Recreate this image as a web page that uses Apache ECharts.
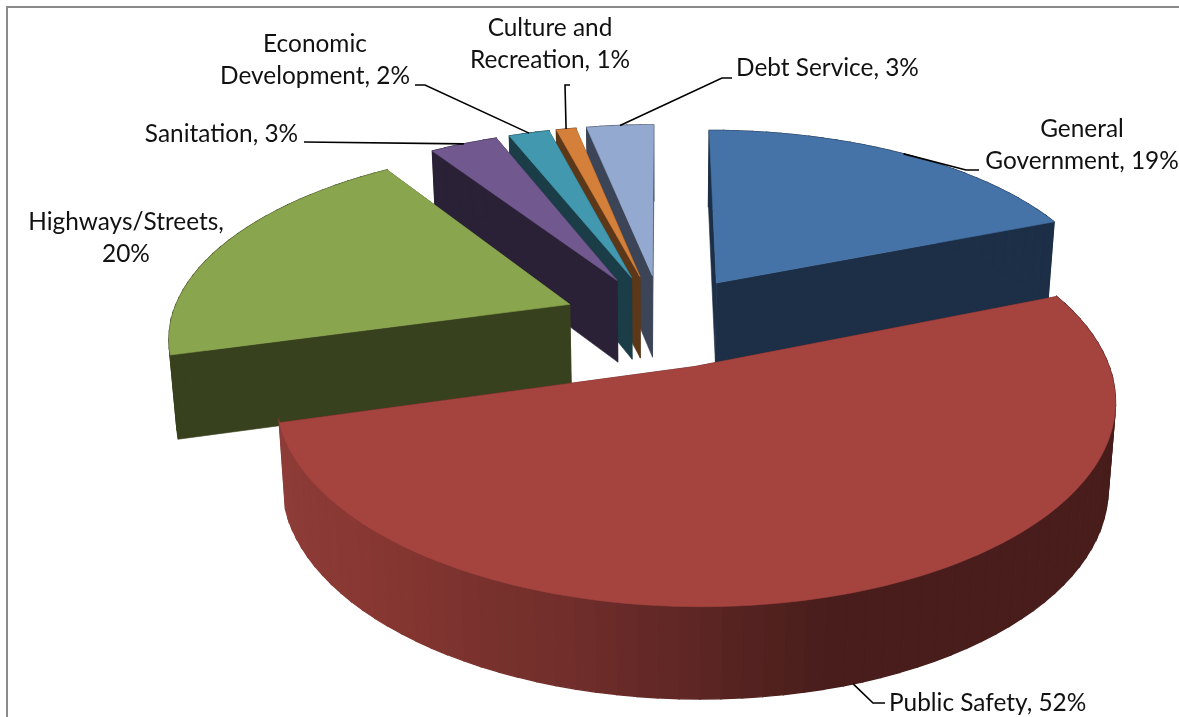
<!DOCTYPE html>
<html>
<head>
<meta charset="utf-8">
<script src="https://cdn.jsdelivr.net/npm/echarts@6/dist/echarts.min.js"></script>
<style>html,body{margin:0;padding:0;background:#fff}#c{width:1179px;height:717px}</style>
</head>
<body>
<div id="c"></div>
<script>
// ---- data ----
var categories = ['General Government','Public Safety','Highways/Streets','Sanitation','Economic Development','Culture and Recreation','Debt Service'];
var shares = [19,51.7,19.97,3.25,1.94,0.94,3.2];

// ---- styles ----
var topColors  = ['#4572a7','#a5433f','#89a54e','#71588f','#4198af','#d5803a','#93a9cf'];
var wallColors = ['#1c2f47','#471d1b','#38411d','#2a2137','#1a3d48','#5c3819','#3c4557'];
var drawRank   = [0,6,5,4,3,2,1];
var redWallStops = [[255.6,[143,61,56]],[225,[136,55,50]],[195,[112,46,43]],[165,[72,29,27]],[60,[71,29,27]]];

// ---- projection ----
var view = {cx:662, cy:320.5, R:399, A:187, p:0.155, explode:0.25, H:83, shrink:0.984};

// ---- label placement ----
var labelPlacement = [
  {lines:['General','Government, 19%'], x:1082, y:[129,161], align:'center', leader:[[966,170],[979,170]], anchor:'top'},
  {lines:['Public Safety, 52%'], x:889, y:[703], align:'left', leader:[[873,703],[885,703]], anchor:'bottom'},
  {lines:['Highways/Streets,','20%'], x:126, y:[222,254], align:'center'},
  {lines:['Sanitation, 3%'], x:221.5, y:[134], align:'center', leader:[[304,142]], anchor:'top'},
  {lines:['Economic','Development, 2%'], x:315, y:[44,76], align:'center', leader:[[425,85],[415,85]], anchor:'top'},
  {lines:['Culture and','Recreation, 1%'], x:550, y:[28,60], align:'center', leader:[[565,85],[570,85]], anchor:'top'},
  {lines:['Debt Service, 3%'], x:736, y:[68], align:'left', leader:[[722,78],[732,78]], anchor:'top'}
];

var total = shares.reduce(function(a,b){return a+b;},0);
var starts = [], acc = 0;
shares.forEach(function(v){ starts.push(acc/total*360); acc += v; });

function rad(d){return d*Math.PI/180;}
// plane point for a slice: angle clockwise from 12 o'clock, r in 0..1
function planePt(mid, a, r){
  return [view.explode*Math.sin(rad(mid)) + r*Math.sin(rad(a)),
         -view.explode*Math.cos(rad(mid)) - r*Math.cos(rad(a))];
}
function topPt(mid,a,r){
  var P = planePt(mid,a,r), s = 1/(1-view.p*P[1]);
  return [view.cx+view.R*P[0]*s, view.cy+view.A*P[1]*s];
}
function botPt(mid,a,r){
  var P = planePt(mid,a,r), s = 1/(1-view.p*P[1]), t = topPt(mid,a,r);
  return [view.cx+(t[0]-view.cx)*view.shrink, t[1]+view.H*Math.sqrt(s)];
}
function wallColor(i,a){
  if(i!==1) return wallColors[i];
  var st = redWallStops;
  for(var k=0;k<st.length-1;k++){
    if(a<=st[k][0] && a>=st[k+1][0]){
      var f=(st[k][0]-a)/(st[k][0]-st[k+1][0]);
      return 'rgb('+[0,1,2].map(function(c){return Math.round(st[k][1][c]+(st[k+1][1][c]-st[k][1][c])*f);}).join(',')+')';
    }
  }
  return wallColors[i];
}

function renderItem(params, api){
  var i = params.dataIndex, value = api.value(0);
  var a0 = starts[i], a1 = a0 + value/total*360, mid=(a0+a1)/2;
  var base = drawRank[i]*10, kids = [];
  function poly(pts,color,z,lw){
    kids.push({type:'polygon',z2:base+z,silent:true,shape:{points:pts},
      style:{fill:color,stroke:color,lineWidth:lw}});
  }
  // cut faces
  poly([topPt(mid,a0,0),topPt(mid,a0,1),botPt(mid,a0,1),botPt(mid,a0,0)], wallColors[i], 1, 0.6);
  poly([topPt(mid,a1,0),topPt(mid,a1,1),botPt(mid,a1,1),botPt(mid,a1,0)], wallColors[i], 1, 0.6);
  // outer rim wall, stripe by stripe
  var stepDeg = 2.5, n = Math.max(1,Math.ceil((a1-a0)/stepDeg));
  for(var k=0;k<n;k++){
    var u=a0+(a1-a0)*k/n, w=a0+(a1-a0)*(k+1)/n;
    poly([topPt(mid,u,1),topPt(mid,w,1),botPt(mid,w,1),botPt(mid,u,1)], wallColor(i,(u+w)/2), 2, 1.4);
  }
  // top face
  var pts=[topPt(mid,a0,0)], m=Math.max(4,Math.ceil((a1-a0)/1.5));
  for(var j=0;j<=m;j++) pts.push(topPt(mid,a0+(a1-a0)*j/m,1));
  poly(pts,topColors[i],3,0.6);
  // label and leader
  var L = labelPlacement[i];
  if(L.leader){
    var start = L.anchor==='bottom' ? botPt(mid,mid,1) : topPt(mid,mid,1);
    kids.push({type:'polyline',z2:200,silent:true,shape:{points:[start].concat(L.leader)},
      style:{stroke:'#000',lineWidth:1.6,fill:null}});
  }
  L.lines.forEach(function(t,li){
    kids.push({type:'text',z2:210,silent:true,style:{text:t,x:L.x,y:L.y[li],
      fontFamily:'Lato',fontSize:24.4,fill:'#111',align:L.align,verticalAlign:'middle'}});
  });
  return {type:'group',children:kids};
}

var chart = echarts.init(document.getElementById('c'),null,{renderer:'canvas'});
chart.setOption({
  animation:false,
  backgroundColor:'#fff',
  graphic:[{type:'polyline',silent:true,shape:{points:[[7,717],[7,7],[1179,7]]},style:{stroke:'#8a8a8a',lineWidth:2,fill:null}}],
  series:[{
    type:'custom',
    coordinateSystem:'none',
    renderItem:renderItem,
    data:shares.map(function(v,i){return {name:categories[i],value:[v]};})
  }]
});
</script>
</body>
</html>
